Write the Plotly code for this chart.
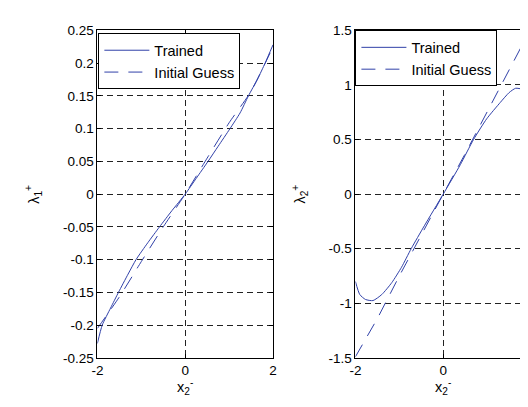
import plotly.graph_objects as go

# ---- data ----
left_trained_x = [-2, -1.89, -1.7, -1.52, -1.3, -1.12, -0.85, -0.585, -0.3, 0, 0.25, 0.52, 0.75, 1.02, 1.25, 1.44, 1.65, 1.82, 2]
left_trained_y = [-0.228, -0.2, -0.174, -0.15, -0.122, -0.1, -0.074, -0.05, -0.025, 0, 0.024, 0.05, 0.073, 0.1, 0.124, 0.15, 0.176, 0.2, 0.228]
left_guess_x = [-2, -1.5, -1, -0.5, 0, 0.5, 1, 1.5, 2]
left_guess_y = [-0.205, -0.157, -0.103, -0.05, 0, 0.055, 0.109, 0.157, 0.225]

right_trained_x = [-2, -1.9, -1.77, -1.6, -1.4, -1.17, -0.95, -0.73, -0.43, 0, 0.39, 0.69, 0.99, 1.3, 1.5, 1.65, 1.8, 1.9, 2]
right_trained_y = [-0.80, -0.92, -0.965, -0.975, -0.92, -0.81, -0.67, -0.50, -0.29, 0, 0.27, 0.50, 0.69, 0.84, 0.93, 0.97, 0.96, 0.92, 0.83]
right_guess_x = [-2, -1.5, -1, -0.5, 0, 0.5, 1, 1.5, 2]
right_guess_y = [-1.49, -1.14, -0.75, -0.37, 0, 0.37, 0.75, 1.13, 1.52]

x_ticks = [-2, 0, 2]
x_ticklabels = ["-2", "0", "2"]
left_yticks = [-0.25, -0.2, -0.15, -0.1, -0.05, 0, 0.05, 0.1, 0.15, 0.2, 0.25]
left_yticklabels = ["-0.25", "-0.2", "-0.15", "-0.1", "-0.05", "0", "0.05", "0.1", "0.15", "0.2", "0.25"]
right_yticks = [-1.5, -1, -0.5, 0, 0.5, 1, 1.5]
right_yticklabels = ["-1.5", "-1", "-0.5", "0", "0.5", "1", "1.5"]

series_names = ["Trained", "Initial Guess"]

# ---- figure ----
W, H = 528, 407
LINE = "#3040a8"
FONT = "Liberation Sans, Arial, sans-serif"
DASH = "14px,10px"

fig = go.Figure()
fig.add_trace(go.Scatter(x=left_trained_x, y=left_trained_y, mode="lines", name=series_names[0],
                         line=dict(color=LINE, width=1, shape="spline", smoothing=0.6),
                         xaxis="x", yaxis="y", legend="legend"))
fig.add_trace(go.Scatter(x=left_guess_x, y=left_guess_y, mode="lines", name=series_names[1],
                         line=dict(color=LINE, width=1, dash=DASH, shape="spline", smoothing=0.6),
                         xaxis="x", yaxis="y", legend="legend"))
fig.add_trace(go.Scatter(x=right_trained_x, y=right_trained_y, mode="lines", name=series_names[0],
                         line=dict(color=LINE, width=1, shape="spline", smoothing=0.6),
                         xaxis="x2", yaxis="y2", legend="legend2"))
fig.add_trace(go.Scatter(x=right_guess_x, y=right_guess_y, mode="lines", name=series_names[1],
                         line=dict(color=LINE, width=1, dash=DASH),
                         xaxis="x2", yaxis="y2", legend="legend2"))

ydom = [1 - 356 / H, 1 - 16 / H]
axis_common = dict(showline=True, mirror="ticks", linecolor="black", linewidth=1,
                   ticks="inside", ticklen=4, tickcolor="black",
                   showgrid=True, gridcolor="#222", gridwidth=1, griddash="6px,4px",
                   zeroline=False, tickfont=dict(family=FONT, size=13.5, color="black"))

fig.update_layout(
    width=W, height=H,
    margin=dict(l=0, r=0, t=0, b=0),
    paper_bgcolor="white", plot_bgcolor="white",
    font=dict(family=FONT, color="black"),
    xaxis=dict(domain=[85 / W, 264 / W], range=[-2, 2], tickvals=x_ticks, ticktext=x_ticklabels,
               anchor="y", **axis_common),
    yaxis=dict(domain=ydom, range=[-0.25, 0.25], tickvals=left_yticks, ticktext=left_yticklabels,
               anchor="x", **axis_common),
    xaxis2=dict(domain=[348 / W, 527 / W], range=[-2, 2], tickvals=x_ticks, ticktext=x_ticklabels,
                anchor="y2", **axis_common),
    yaxis2=dict(domain=ydom, range=[-1.5, 1.5], tickvals=right_yticks, ticktext=right_yticklabels,
                anchor="x2", **axis_common),
    legend=dict(x=86 / W, y=1 - 19 / H, xanchor="left", yanchor="top",
                bgcolor="white", bordercolor="black", borderwidth=1,
                font=dict(family=FONT, size=14.5, color="black"), itemwidth=45,
                tracegroupgap=0),
    legend2=dict(x=348 / W, y=1 - 16 / H, xanchor="left", yanchor="top",
                 bgcolor="white", bordercolor="black", borderwidth=1,
                 font=dict(family=FONT, size=14.5, color="black"), itemwidth=45,
                 tracegroupgap=0),
    showlegend=True,
)

annos = [
    dict(text="λ<sub>1</sub><sup>+</sup>", x=20 / W, y=1 - 186 / H, textangle=-90),
    dict(text="λ<sub>2</sub><sup>+</sup>", x=292 / W, y=1 - 186 / H, textangle=-90),
    dict(text="x<sub>2</sub><sup>-</sup>", x=174 / W, y=1 - 386 / H, textangle=0),
    dict(text="x<sub>2</sub><sup>-</sup>", x=437 / W, y=1 - 386 / H, textangle=0),
]
for a in annos:
    fig.add_annotation(xref="paper", yref="paper", showarrow=False,
                       font=dict(family=FONT, size=14.5, color="black"),
                       xanchor="center", yanchor="middle", **a)

fig.write_html("out.html")
